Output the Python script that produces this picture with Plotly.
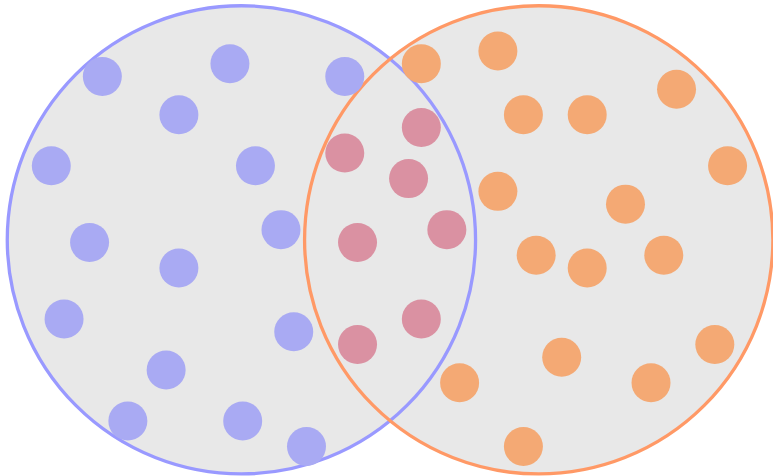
import plotly.graph_objects as go

# Data (grid units)
blue_x = [-11, -1, 8, -5, -15, 1, 3, -12, -5, -14, 4, -6, -9, 0, 5]
blue_y = [13, 14, 13, 10, 6, 6, 1, 0, -2, -6, -7, -10, -14, -14, -16]

both_x = [14, 8, 13, 16, 9, 14, 9]
both_y = [9, 7, 5, 1, 0, -6, -8]

orange_x = [14, 20, 22, 27, 34, 38, 20, 30, 23, 27, 33, 25, 17, 32, 37, 22]
orange_y = [14, 15, 10, 10, 12, 6, 4, 3, -1, -2, -1, -9, -11, -11, -8, -16]

# Circles: (center x, center y, radius)
set_a = (-0.1, 0.2, 18.35)
set_b = (23.2, 0.2, 18.35)

fig = go.Figure()

for xs, ys, col in [(blue_x, blue_y, "#a9aaf3"),
                    (both_x, both_y, "#da91a2"),
                    (orange_x, orange_y, "#f4a974")]:
    fig.add_trace(go.Scatter(x=xs, y=ys, mode="markers",
                             marker=dict(size=39, color=col, line=dict(width=0)),
                             hoverinfo="skip", showlegend=False))

shapes = []
for cx, cy, r in [set_a, set_b]:
    shapes.append(dict(type="circle", xref="x", yref="y", x0=cx - r, x1=cx + r,
                       y0=cy - r, y1=cy + r, fillcolor="#e8e8e8",
                       line=dict(width=0), layer="below"))
for (cx, cy, r), col in [(set_a, "#9999ff"), (set_b, "#ff9966")]:
    shapes.append(dict(type="circle", xref="x", yref="y", x0=cx - r, x1=cx + r,
                       y0=cy - r, y1=cy + r, fillcolor="rgba(0,0,0,0)",
                       line=dict(width=3.3, color=col), layer="below"))

fig.update_layout(
    width=773, height=476,
    margin=dict(l=0, r=0, t=0, b=0),
    paper_bgcolor="white", plot_bgcolor="white",
    shapes=shapes,
    xaxis=dict(range=[-19.02, 41.56], visible=False, showgrid=False, zeroline=False),
    yaxis=dict(range=[-18.31, 19.0], visible=False, showgrid=False, zeroline=False),
    showlegend=False,
)

fig.write_html("out.html", config={"displayModeBar": False},
               post_script="document.body.style.margin='0';document.body.style.overflow='hidden';")
